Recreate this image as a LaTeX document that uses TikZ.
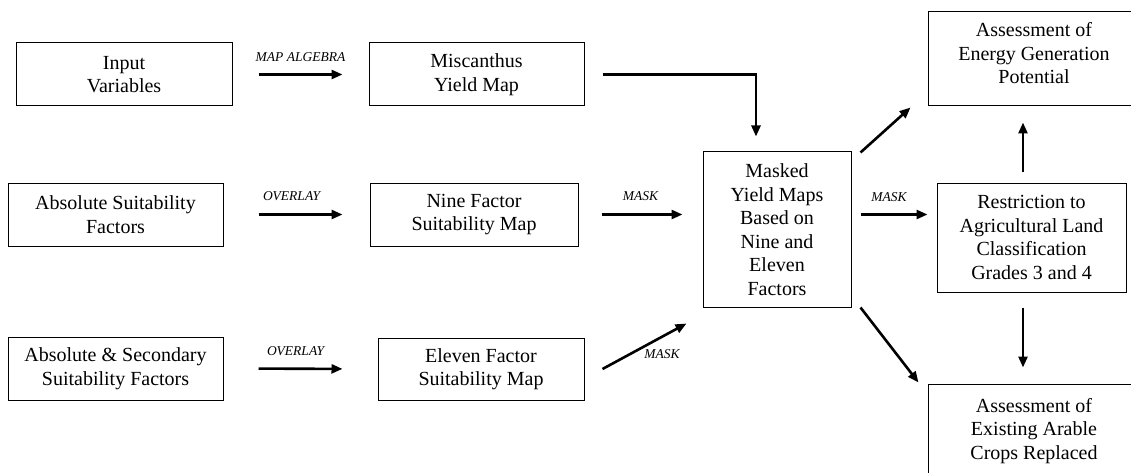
\documentclass[tikz,border=0pt]{standalone}
\usepackage{fontspec}
\setmainfont{Liberation Serif}
\usetikzlibrary{arrows.meta,calc}
\begin{document}
\begin{tikzpicture}[x=1pt,y=-1pt,
  box/.style={draw=black,line width=1pt,rectangle,align=center,inner sep=2pt,
    font=\fontsize{20}{23.5}\selectfont},
  arr/.style={line width=2.6pt,-{Triangle[length=11pt,width=9pt]}},
  lbl/.style={font=\fontsize{13.5}{15}\selectfont\itshape,inner sep=0pt}]
\useasboundingbox (0,0) rectangle (1131,473);
% boxes
\node[box,minimum width=216pt,minimum height=63pt] (inp) at (124,74.5) {Input\\Variables};
\node[box,minimum width=215pt,minimum height=63pt] (misc) at (476.5,74.5) {Miscanthus\\Yield Map};
\node[box,minimum width=215pt,minimum height=63pt] (abs) at (115.5,214.5) {Absolute Suitability\\Factors};
\node[box,minimum width=208pt,minimum height=63pt] (nine) at (474,214.5) {Nine Factor\\Suitability Map};
\node[box,minimum width=215pt,minimum height=63pt] (abssec) at (115.5,368.5) {Absolute \& Secondary\\Suitability Factors};
\node[box,minimum width=206pt,minimum height=62pt] (eleven) at (481,369) {Eleven Factor\\Suitability Map};
\node[box,minimum width=148pt,minimum height=155pt] (masked) at (777,229.5) {Masked\\Yield Maps\\Based on\\Nine and\\Eleven\\Factors};
\node[box,minimum width=189pt,minimum height=109pt] (restr) at (1031.5,237.5) {Restriction to\\Agricultural Land\\Classification\\Grades 3 and 4};
\node[box,minimum width=212pt,minimum height=94pt,text depth=12pt] (energy) at (1034,59) {Assessment of\\Energy Generation\\Potential};
\node[box,minimum width=212pt,minimum height=94pt] (exist) at (1034,431) {Assessment of\\Existing Arable\\Crops Replaced};
% connectors
\draw[arr,shorten <=26pt,shorten >=26pt] (inp.east) -- (misc.west)
  node[lbl,midway,above=12pt] (l1) {MAP ALGEBRA};
\draw[arr,shorten <=35pt,shorten >=27pt] (abs.east) -- (nine.west)
  node[lbl,midway,above=12pt,xshift=-5pt] (l2) {OVERLAY};
\draw[arr,shorten <=35pt,shorten >=35pt] (abssec.east) -- (eleven.west)
  node[lbl,midway,above=12pt,xshift=-5pt] (l3) {OVERLAY};
\draw[arr,shorten <=23pt,shorten >=20pt] (nine.east) -- (nine.east -| masked.west)
  node[lbl,midway,above=13pt] (l4) {MASK};
\draw[arr] ($(eleven.east)+(18,0)$) -- ($(masked.south west)+(-16,16)$)
  node[lbl,pos=0.47,anchor=north west,xshift=1pt,yshift=-1pt] (l5) {MASK};
\draw[arr,shorten <=18pt] (misc.east) -| ($(masked.north)+(-21,-15)$);
\draw[arr] ($(masked.north east)+(9,1)$) -- ($(energy.south west)+(-17,1)$);
\draw[arr,shorten <=9pt,shorten >=9pt] (nine.east -| masked.east) -- (nine.east -| restr.west)
  node[lbl,midway,above=12pt,xshift=-5pt] (l6) {MASK};
\draw[arr,shorten <=10pt,shorten >=16pt] ($(restr.north)+(-8.5,0)$) -- ($(restr.north |- energy.south)+(-8.5,0)$);
\draw[arr,shorten <=15pt,shorten >=16pt] ($(restr.south)+(-8.5,0)$) -- ($(restr.south |- exist.north)+(-8.5,0)$);
\draw[arr] ($(masked.south east)+(9,0)$) -- ($(exist.north west)+(-9,-1)$);
\end{tikzpicture}
\end{document}
